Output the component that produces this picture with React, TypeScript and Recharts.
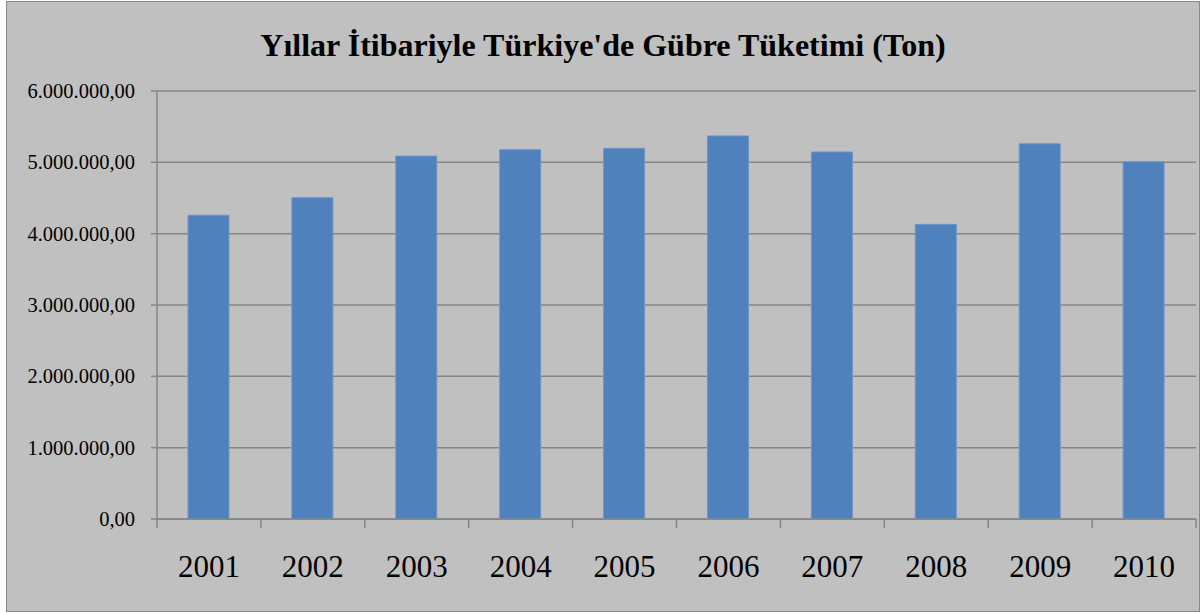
import { BarChart, Bar, XAxis, YAxis, CartesianGrid } from "recharts";

const years = ["2001", "2002", "2003", "2004", "2005", "2006", "2007", "2008", "2009", "2010"];
const tonnes = [4258000, 4504000, 5088000, 5177000, 5196000, 5370000, 5145000, 4130000, 5260000, 5008000];
const yTicks = [0, 1000000, 2000000, 3000000, 4000000, 5000000, 6000000];
const title = "Yıllar İtibariyle Türkiye'de Gübre Tüketimi (Ton)";

const data = years.map((year, i) => ({ year, value: tonnes[i] }));

const W = 1202;
const H = 613;
const margin = { top: 91, right: 6, bottom: 34, left: 0 };
const yAxisWidth = 157;
const plotWidth = W - margin.left - margin.right - yAxisWidth;
const band = plotWidth / years.length;
const axisGray = "#868686";
const font = "'Liberation Serif', 'Times New Roman', serif";

// 6000000 -> "6.000.000,00"
function trNumber(v: number) {
  const whole = Math.round(v)
    .toString()
    .replace(/\B(?=(\d{3})+(?!\d))/g, ".");
  return `${whole},00`;
}

function ValueTick(props: any) {
  const { x, y, payload } = props;
  return (
    <text x={x} y={y} dy={7} textAnchor="end" fill="#000" fontSize={20.5} fontFamily={font} style={{ fontFamily: font }}>
      {trNumber(payload.value)}
    </text>
  );
}

function YearTick(props: any) {
  const { x, y, payload, index } = props;
  const left = x - band / 2;
  const right = x + band / 2;
  const top = y - 8;
  return (
    <g>
      <line x1={left} y1={top} x2={left} y2={top + 9} stroke={axisGray} strokeWidth={1.5} />
      {index === years.length - 1 && (
        <line x1={right} y1={top} x2={right} y2={top + 9} stroke={axisGray} strokeWidth={1.5} />
      )}
      <text x={x} y={y} dy={50} textAnchor="middle" fill="#000" fontSize={31} style={{ fontFamily: font }}>
        {payload.value}
      </text>
    </g>
  );
}

export default function App() {
  return (
    <div style={{ position: "absolute", left: 0, top: 0, width: W, height: H, background: "#fff" }}>
      <div
        style={{
          position: "absolute",
          left: 6,
          top: 1,
          width: 1192,
          height: 609,
          background: "#c0c0c0",
          border: "1.5px solid #888",
        }}
      />
      <div
        style={{
          position: "absolute",
          left: 0,
          top: 26,
          width: 1206,
          textAlign: "center",
          fontFamily: font,
          fontWeight: "bold",
          fontSize: 32,
          lineHeight: "38px",
          color: "#000",
        }}
      >
        {title}
      </div>
      <div style={{ position: "absolute", left: 0, top: 0, fontFamily: font }}>
        <BarChart width={W} height={H} data={data} margin={margin}>
          <CartesianGrid vertical={false} stroke={axisGray} strokeWidth={1.5} />
          <XAxis
            dataKey="year"
            height={60}
            axisLine={{ stroke: axisGray, strokeWidth: 1.5 }}
            tickLine={false}
            interval={0}
            tick={<YearTick />}
          />
          <YAxis
            width={yAxisWidth}
            domain={[0, 6000000]}
            ticks={yTicks}
            interval={0}
            axisLine={{ stroke: axisGray, strokeWidth: 1.5 }}
            tickLine={{ stroke: axisGray, strokeWidth: 1.5 }}
            tickSize={6}
            tickMargin={16}
            tick={<ValueTick />}
          />
          <Bar dataKey="value" fill="#4f81bd" stroke="#6f95c8" strokeWidth={1} barSize={41} isAnimationActive={false} />
        </BarChart>
      </div>
    </div>
  );
}
